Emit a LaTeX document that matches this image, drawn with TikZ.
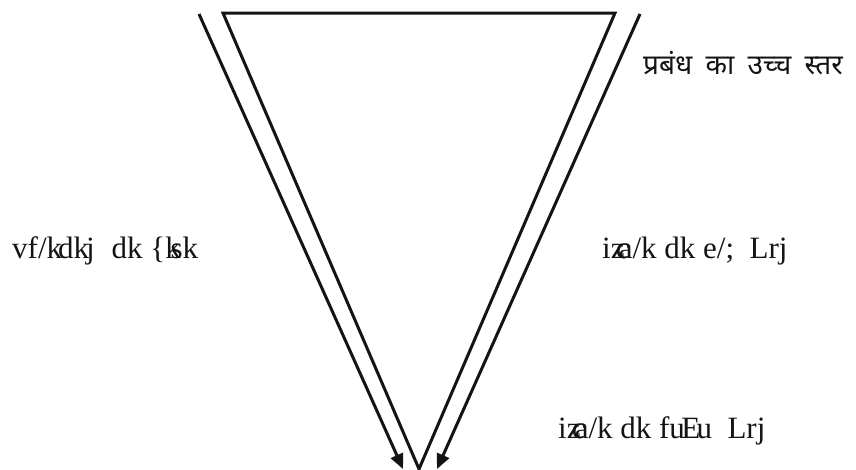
\documentclass[tikz,border=0pt]{standalone}
\usepackage{fontspec}
\setmainfont{Liberation Serif}
\newfontfamily\deva[Script=Devanagari]{Noto Sans}
\usetikzlibrary{arrows.meta}
\definecolor{ink}{HTML}{141414}
\tikzset{
  edge/.style={draw=ink, line width=3pt},
  arrowline/.style={edge, -{Triangle[length=15pt,width=13pt]}},
  kdtext/.style={anchor=base west, inner sep=0pt, text=ink, font=\fontsize{31}{31}\selectfont},
  hitext/.style={anchor=base west, inner sep=0pt, text=ink, font=\deva\fontsize{28}{28}\selectfont}
}
\begin{document}
\begin{tikzpicture}[x=1pt,y=-1pt]
\useasboundingbox (0,0) rectangle (856,469);
% triangle
\coordinate (tl) at (223,13);
\coordinate (tr) at (615,13);
\coordinate (ap) at (419,469);
\draw[edge, line join=miter] (tl) -- (tr) -- (ap) -- cycle;
% side arrows
\coordinate (ls) at (199,14);
\coordinate (le) at (403,469);
\coordinate (rs) at (640,14);
\coordinate (re) at (437,469);
\draw[arrowline] (ls) -- (le);
\draw[arrowline] (rs) -- (re);
% labels
\node[hitext] (top) at (643,74) {प्रबंध\hspace{6pt} का\hspace{6pt} उच्च\hspace{6pt} स्तर};
\node[kdtext] (auth) at (12,258) {vf/k\kern-0.13em dk\kern-0.1em j\kern0.05em\ \ dk {\char`\{}k\kern-0.33em sk};
\node[kdtext] (mid) at (602,258) {iz\kern-0.28em c\kern-0.35em a/k dk e/;\ \ Lrj};
\node[kdtext] (low) at (558,438) {iz\kern-0.28em c\kern-0.35em a/k dk fu\kern-0.12em E\kern-0.12em u\ \ Lrj};
\end{tikzpicture}
\end{document}
